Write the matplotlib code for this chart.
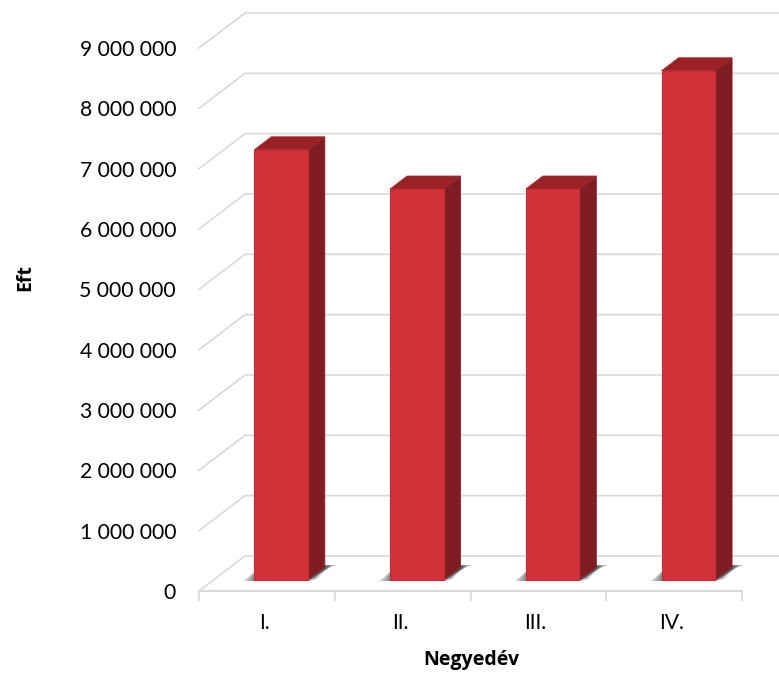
import matplotlib
matplotlib.use('Agg')
import matplotlib.pyplot as plt
from matplotlib.patches import Polygon

plt.rcParams['font.family'] = ['Lato', 'DejaVu Sans']

quarters = ['I.', 'II.', 'III.', 'IV.']
values = [7130000, 6480000, 6480000, 8440000]
y_ticks = [0, 1000000, 2000000, 3000000, 4000000, 5000000, 6000000, 7000000, 8000000, 9000000]
y_labels = ['0', '1 000 000', '2 000 000', '3 000 000', '4 000 000', '5 000 000',
            '6 000 000', '7 000 000', '8 000 000', '9 000 000']

fig = plt.figure(figsize=(7.79, 6.75), dpi=100)
ax = fig.add_axes([199 / 779, (675 - 591) / 675, 543 / 779, 543 / 675])
ax.set_xlim(0, 4)
ax.set_ylim(0, 9000000)

# one pixel in data units
px = 4 / 543
py = 9000000 / 543

grid = '#d9d9d9'
# fake 3d walls
wall_dx = 46 * px
wall_dy = 35 * py
for v in y_ticks:
    ax.plot([0, wall_dx, 4 + 40 * px], [v, v + wall_dy, v + wall_dy], color=grid, lw=1.2,
            clip_on=False, zorder=1, solid_joinstyle='miter')
ax.plot([0, 4], [0, 0], color=grid, lw=1.5, clip_on=False, zorder=1)

bar_w = 53.5 * px
off_x = 14.2 * px
off_y = 11 * py
dep_x = 17 * px
dep_y = 13 * py

for i, val in enumerate(values):
    x0 = i + 0.5 - bar_w / 2 + off_x
    x1 = x0 + bar_w
    y0 = off_y
    y1 = off_y + val

    # soft shadow on the floor
    for k in range(10):
        g = 1 - k / 10
        ax.add_patch(Polygon([(x0 - 12 * px * g, y0 - 1 * py),
                              (x0, y0 + 8 * py),
                              (x0 + 2 * px, y0 - 1 * py)],
                             closed=True, facecolor='#444444', edgecolor='none', alpha=0.09,
                             zorder=2, clip_on=False))
        ax.add_patch(Polygon([(x1, y0 - 1 * py),
                              (x1 + dep_x, y0 + dep_y - 3 * py),
                              (x1 + dep_x + 12 * px * g, y0 + dep_y + 2 * py),
                              (x1 + dep_x, y0 + dep_y + 2 * py),
                              (x1 + 3 * px, y0 + 2 * py)],
                             closed=True, facecolor='#444444', edgecolor='none', alpha=0.13,
                             zorder=2, clip_on=False))
        ax.add_patch(Polygon([(x1, y0 - 1 * py),
                              (x1 + 8 * px, y0 + 4 * py - 4 * py * g),
                              (x1 + dep_x + 6 * px * g, y0 + dep_y + 1 * py),
                              (x1 + dep_x, y0 + dep_y)],
                             closed=True, facecolor='#444444', edgecolor='none', alpha=0.08,
                             zorder=2, clip_on=False))

    # side, top, front
    ax.add_patch(Polygon([(x1, y0), (x1 + dep_x, y0 + dep_y), (x1 + dep_x, y1 + dep_y), (x1, y1)],
                         closed=True, facecolor='#7f1d22', edgecolor='#8a2227', lw=0.6, zorder=3))
    ax.add_patch(Polygon([(x0, y1), (x0 + dep_x, y1 + dep_y), (x1 + dep_x, y1 + dep_y), (x1, y1)],
                         closed=True, facecolor='#9a2227', edgecolor='#a3262c', lw=0.6, zorder=3))
    ax.bar(x0, val, width=bar_w, bottom=y0, align='edge', color='#d13239',
           edgecolor='#c42f36', linewidth=0.8, zorder=4)

for s in ax.spines.values():
    s.set_visible(False)
ax.patch.set_visible(False)

ax.set_yticks(y_ticks)
ax.set_yticklabels(y_labels, fontsize=15.2, color='black')
ax.tick_params(axis='y', length=0, pad=16.5)

ax.set_xticks([0, 1, 2, 3, 4])
ax.set_xticklabels([])
ax.set_xticks([i + 0.48 for i in range(4)], minor=True)
ax.set_xticklabels(quarters, minor=True, fontsize=15.2, color='black')
ax.tick_params(axis='x', which='major', length=7, width=1.2, color=grid)
ax.tick_params(axis='x', which='minor', length=0, pad=16)

fig.text(25 / 779, 1 - 278 / 675, 'Eft', rotation=90, fontsize=14, fontweight='bold',
         family='Open Sans', ha='center', va='center')
fig.text(471 / 779, 1 - 660 / 675, 'Negyedév', fontsize=14, fontweight='bold',
         family='Open Sans', ha='center', va='center')

fig.savefig('out.png', dpi=100)
